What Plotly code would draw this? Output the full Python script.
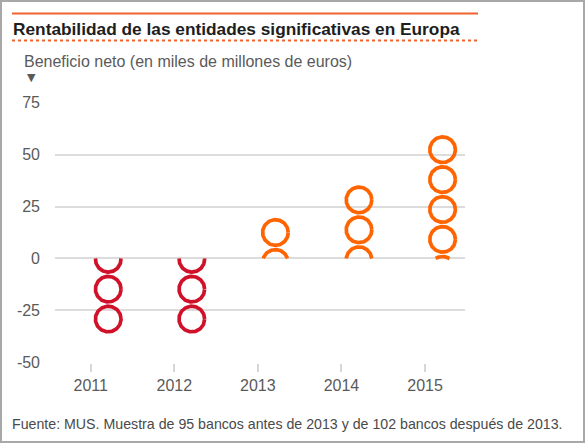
import math
import plotly.graph_objects as go

# ---- data ----
years = [2011, 2012, 2013, 2014, 2015]
tick_labels = ["2011", "2012", "2013", "2014", "2015"]
values = [-29.2, -29.2, 12.5, 28.2, 52.4]      # centre of the outermost circle
circle_step = 14.4                               # value units between stacked circles
y_ticks = [-50, -25, 0, 25, 50, 75]
y_tick_labels = ["-50", "-25", "0", "25", "50", "75"]

title = "Rentabilidad de las entidades significativas en Europa"
subtitle = "Beneficio neto (en miles de millones de euros)"
footer = "Fuente: MUS. Muestra de 95 bancos antes de 2013 y de 102 bancos después de 2013."

# ---- layout geometry ----
W, H = 585, 443
ml, mr, mt, mb = 55, 120, 102, 80
pw, ph = W - ml - mr, H - mt - mb
xr = [2010.573, 2015.478]
yr = [-50.4, 75.4]
px_x = pw / (xr[1] - xr[0])
px_y = ph / (yr[1] - yr[0])
r_px = 12.8
rx, ry = r_px / px_x, r_px / px_y
x_offset = 0.21

RED = "#cf1229"
ORANGE = "#ff6400"

def circles_for(year, v):
    xs, ys = [], []
    s = 1 if v >= 0 else -1
    k = 0
    while True:
        c = v - s * k * circle_step
        if s * c + ry <= 0:
            break
        a = math.asin(max(-1.0, min(1.0, -c / ry)))
        if s > 0:
            t0, t1 = a, math.pi - a
            if c - ry >= 0:
                t0, t1 = 0, 2 * math.pi
        else:
            t0, t1 = math.pi - a, 2 * math.pi + a
            if c + ry <= 0:
                t0, t1 = 0, 2 * math.pi
        n = 120
        for i in range(n + 1):
            t = t0 + (t1 - t0) * i / n
            xs.append(year + x_offset + rx * math.cos(t))
            ys.append(c + ry * math.sin(t))
        xs.append(None)
        ys.append(None)
        k += 1
    return xs, ys

neg_x, neg_y, pos_x, pos_y = [], [], [], []
for yv, v in zip(years, values):
    cx, cy = circles_for(yv, v)
    if v < 0:
        neg_x += cx; neg_y += cy
    else:
        pos_x += cx; pos_y += cy

fig = go.Figure()
fig.add_trace(go.Scatter(x=neg_x, y=neg_y, mode="lines",
                         line=dict(color=RED, width=3.7), hoverinfo="skip"))
fig.add_trace(go.Scatter(x=pos_x, y=pos_y, mode="lines",
                         line=dict(color=ORANGE, width=3.7), hoverinfo="skip"))

def px2paper_x(p):
    return (p - ml) / pw

def px2paper_y(p):
    return (H - mb - p) / ph

FONT = "Liberation Sans, Arial, sans-serif"

def ann(text, px, py, size, color, family=FONT):
    return dict(text=text, xref="paper", yref="paper",
                x=px2paper_x(px), y=px2paper_y(py),
                xanchor="left", yanchor="middle", showarrow=False,
                font=dict(family=family, size=size, color=color))

annotations = [
    ann("<b>" + title + "</b>", 11, 28.5, 17.3, "#1e1e1e"),
    ann(subtitle, 22, 61, 16, "#5a5a5a"),
    ann("▼", 25, 78, 11, "#5a5a5a", "DejaVu Sans"),
    ann(footer, 10, 424, 14.2, "#4a4a4a"),
]

shapes = [
    dict(type="line", xref="paper", yref="paper",
         x0=px2paper_x(12), x1=px2paper_x(478), y0=px2paper_y(13.5), y1=px2paper_y(13.5),
         line=dict(color="#f0622e", width=2)),
    dict(type="line", xref="paper", yref="paper",
         x0=px2paper_x(12), x1=px2paper_x(478), y0=px2paper_y(40.5), y1=px2paper_y(40.5),
         line=dict(color="#f0622e", width=2, dash="dot")),
    dict(type="rect", xref="paper", yref="paper",
         x0=px2paper_x(1), x1=px2paper_x(584), y0=px2paper_y(442), y1=px2paper_y(1),
         line=dict(color="#a8a8a8", width=2)),
]

fig.update_layout(
    width=W, height=H,
    margin=dict(l=ml, r=mr, t=mt, b=mb),
    paper_bgcolor="white", plot_bgcolor="white",
    showlegend=False,
    font=dict(family=FONT, color="#5a5a5a"),
    annotations=annotations,
    shapes=shapes,
    xaxis=dict(range=xr, tickvals=years, ticktext=tick_labels,
               showgrid=False, zeroline=False, showline=False,
               ticks="outside", ticklen=8, tickwidth=2, tickcolor="#d6d6d6",
               tickfont=dict(family=FONT, size=16, color="#5a5a5a"),
               fixedrange=True),
    yaxis=dict(range=yr, tickvals=y_ticks, ticktext=y_tick_labels,
               showgrid=True, gridcolor="#dcdcdc", gridwidth=2,
               zeroline=False, showline=False, ticks="",
               ticklabelstandoff=14,
               tickfont=dict(family=FONT, size=16, color="#5a5a5a"),
               fixedrange=True),
)

fig.write_html("out.html", config={"displayModeBar": False})
